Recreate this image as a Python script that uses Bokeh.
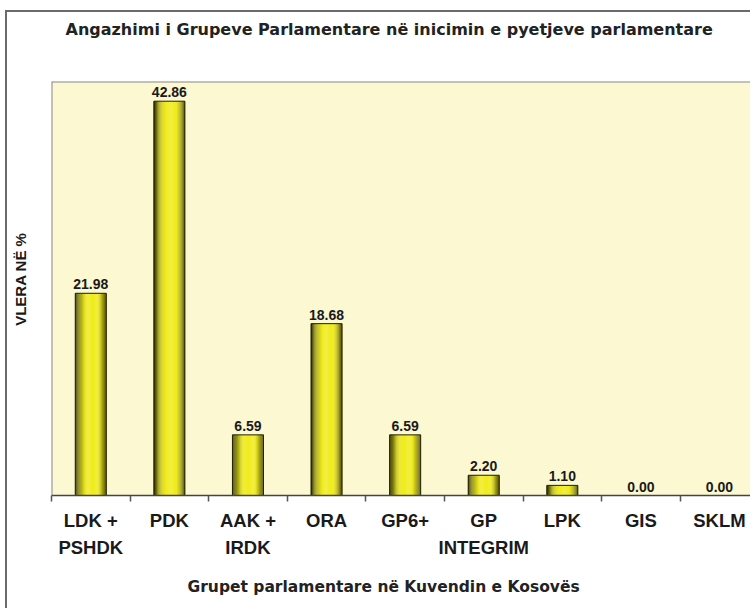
import math
from bokeh.plotting import figure
from bokeh.models import (ColumnDataSource, FixedTicker, Span, Range1d, Title)
from bokeh.embed import file_html
from bokeh.resources import INLINE
from bokeh.core.properties import value

# ---------------- data ----------------
categories = ["LDK +\nPSHDK", "PDK", "AAK +\nIRDK", "ORA", "GP6+",
              "GP\nINTEGRIM", "LPK", "GIS", "SKLM"]
values = [21.98, 42.86, 6.59, 18.68, 6.59, 2.20, 1.10, 0.00, 0.00]
value_labels = ["21.98", "42.86", "6.59", "18.68", "6.59", "2.20", "1.10", "0.00", "0.00"]
title_text = "Angazhimi i Grupeve Parlamentare në inicimin e pyetjeve parlamentare"
x_title = "Grupet parlamentare në Kuvendin e Kosovës"
y_title = "VLERA NË %"

n = len(categories)
centers = [i + 0.5 for i in range(n)]
boundaries = list(range(n + 1))

# ---------------- figure ----------------
# figure is shifted by (7, 12) via css margin + border -> frame at (51, 81)
p = figure(width=745, height=598, output_backend="svg", toolbar_location=None,
           x_range=Range1d(0, 8.92), y_range=Range1d(0, 45),
           min_border_left=44, min_border_right=0, min_border_top=69,
           min_border_bottom=108)
p.styles = {"margin-left": "5px", "margin-top": "10px",
            "border-left": "2px solid #6b6b6b", "border-top": "2px solid #6b6b6b"}
p.background_fill_color = "#FBF8D2"
p.border_fill_color = "white"
p.outline_line_color = None
p.xgrid.visible = False
p.ygrid.visible = False
p.yaxis.visible = False

# frame edges (top and left)
p.add_layout(Span(location=45, dimension="width", line_color="#8a8a8a", line_width=2))
p.add_layout(Span(location=0, dimension="height", line_color="#8a8a8a", line_width=2))

# ---------------- bars with cylinder-like shading ----------------
bar_w = 0.395
N = 28
dark_l = (35, 35, 0)
bright = (240, 236, 30)
dark_r = (75, 75, 5)

def mix(a, b, f):
    return tuple(int(round(a[i] + (b[i] - a[i]) * f)) for i in range(3))

def shade(t):
    if t < 0.42:
        f = math.sin(math.pi / 2 * t / 0.42)
        return mix(dark_l, bright, f ** 0.9)
    if t < 0.72:
        return bright
    f = (t - 0.72) / 0.28
    return mix(bright, dark_r, f ** 1.3)

xs, tops, cols = [], [], []
for k in range(N):
    t = (k + 0.5) / N
    off = t * bar_w - bar_w / 2
    c = "#%02x%02x%02x" % shade(t)
    for i in range(n):
        xs.append(centers[i] + off)
        tops.append(values[i])
        cols.append(c)
src = ColumnDataSource(dict(x=xs, top=tops, color=cols))
p.vbar(x="x", top="top", width=bar_w / N * 1.15, bottom=0, source=src,
       fill_color="color", line_color=None)

pos = [i for i in range(n) if values[i] > 0]
p.vbar(x=[centers[i] for i in pos], top=[values[i] for i in pos], width=bar_w,
       bottom=0, fill_color=None, line_color="#222200", line_width=1)

# value labels
p.text(x=centers, y=values, text=value_labels, text_align="center",
       text_baseline="alphabetic", y_offset=-9,
       text_font=value("Liberation Sans"), text_font_style="bold",
       text_font_size="14px", text_color="#1a1a1a")

# ---------------- x axis ----------------
ax = p.xaxis[0]
ax.ticker = FixedTicker(ticks=centers, minor_ticks=boundaries)
ax.major_label_overrides = {c: lab for c, lab in zip(centers, categories)}
ax.major_tick_in = 0
ax.major_tick_out = 0
ax.minor_tick_in = 0
ax.minor_tick_out = 6
ax.minor_tick_line_color = "#555555"
ax.minor_tick_line_width = 1.5
ax.axis_line_color = "#444444"
ax.axis_line_width = 1.5
ax.major_label_standoff = 8
ax.major_label_text_font = "Liberation Sans"
ax.major_label_text_font_style = "bold"
ax.major_label_text_font_size = "18.5px"
ax.major_label_text_color = "#1a1a1a"
ax.major_label_text_line_height = 1.3

# ---------------- titles ----------------
# spacer (closest to the frame) then the main title above it
p.title = None
p.add_layout(Title(text=" ", standoff=22, text_font_size="16px"), "above")
p.add_layout(Title(text=title_text, align="left", offset=14, vertical_align="bottom",
                   standoff=4, text_font="DejaVu Sans", text_font_style="bold",
                   text_font_size="16px", text_color="#222222"), "above")

p.add_layout(Title(text=x_title, align="left", offset=136, vertical_align="bottom",
                   standoff=30, text_font="DejaVu Sans", text_font_style="bold",
                   text_font_size="15.5px", text_color="#222222"), "below")

p.add_layout(Title(text=" ", standoff=4, text_font_size="15px"), "left")
p.add_layout(Title(text=y_title, align="right", offset=151, vertical_align="bottom",
                   standoff=0, text_font="Liberation Sans", text_font_style="bold",
                   text_font_size="15px", text_color="#1a1a1a"), "left")

open("out.html", "w").write(file_html(p, INLINE))
